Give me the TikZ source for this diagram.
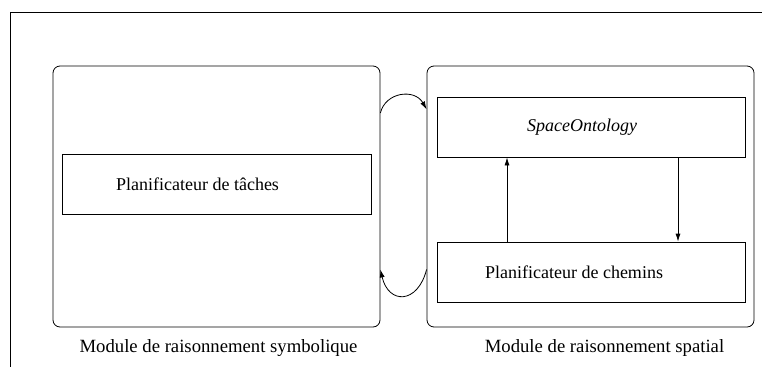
\documentclass[tikz,border=0pt]{standalone}
\usepackage{fontspec}
\setmainfont{Liberation Serif}
\usetikzlibrary{positioning,arrows.meta}
\begin{document}
\begin{tikzpicture}[
    x=1pt, y=-1pt,
    line width=0.8pt,
    every node/.style={font=\fontsize{18}{21}\selectfont},
    module/.style={draw, rounded corners=7pt, minimum width=327pt, minimum height=261pt, inner sep=0pt},
    block/.style={draw, rectangle, minimum width=308pt, minimum height=60pt, inner sep=0pt},
    caption/.style={font=\fontsize{18.7}{22}\selectfont},
    flow/.style={-{Latex[length=8pt,width=5pt]}}
]
\useasboundingbox (0,0) rectangle (762,367);
\draw (762,12) -- (10,12) -- (10,367);
\node[module] (symb) at (216.5,196.5) {};
\node[module] (spat) at (590.5,196.5) {};
\node[block, minimum width=309pt, label={[xshift=-19pt]center:Planificateur de tâches}] (taches) at (216.5,184) {};
\node[block, label={[xshift=-9pt]center:\textit{SpaceOntology}}] (onto) at (591,127) {};
\node[block, label={[xshift=-17pt]center:Planificateur de chemins}] (chemins) at (591,272) {};
\node[caption, below=8pt of symb, xshift=2pt] (symblabel) {Module de raisonnement symbolique};
\node[caption, below=8pt of spat, xshift=14pt] (spatlabel) {Module de raisonnement spatial};
\draw[flow] ([xshift=-84pt]chemins.north) -- ([xshift=-84pt]onto.south);
\draw[flow] ([xshift=87pt]onto.south) -- ([xshift=87pt]chemins.north);
\draw[flow] (symb.27.3) .. controls +(5,-21) and +(-12,-21) .. (spat.152.7);
\draw[flow] (spat.204.2) .. controls +(-9,35) and +(8,35) .. (symb.-24.2);
\end{tikzpicture}
\end{document}
